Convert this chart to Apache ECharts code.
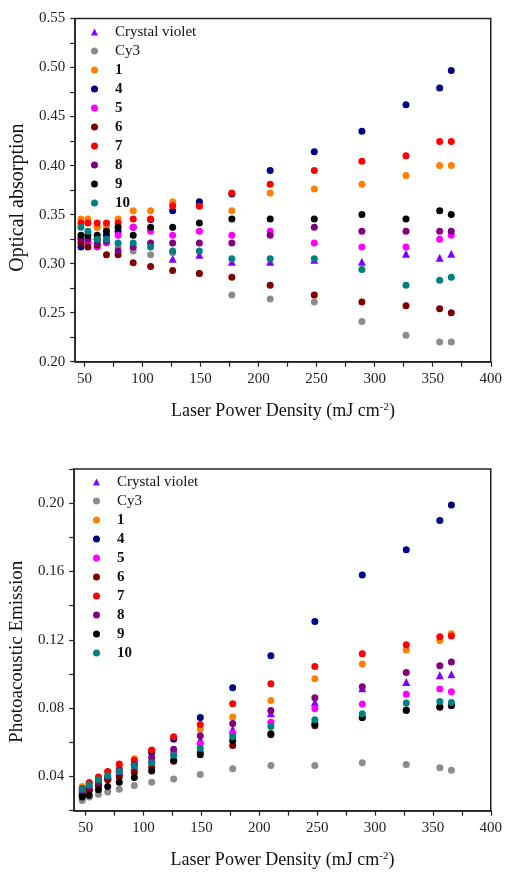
<!DOCTYPE html>
<html>
<head>
<meta charset="utf-8">
<script src="https://cdn.jsdelivr.net/npm/echarts@6/dist/echarts.min.js"></script>
<style>
html,body{margin:0;padding:0;background:#fff;}
#chart{width:505px;height:873px;}
</style>
</head>
<body>
<div id="chart"></div>
<script>
// Shared laser power densities (mJ cm^-2)
const xValues = [47, 53, 61, 69, 79, 92, 107, 126, 149, 177, 210, 248, 289, 327, 356, 366];
const seriesNames = ['Crystal violet', 'Cy3', '1', '4', '5', '6', '7', '8', '9', '10'];
const seriesColors = ['#8000ff', '#8c8c8c', '#ff8000', '#000080', '#ff00ff', '#800000', '#ff0000', '#800080', '#000000', '#008080'];

// Top panel: Optical absorption (null = point not visible)
const absCrystalViolet = [null, null, null, null, null, null, null, 0.305, 0.309, 0.302, 0.302, 0.304, 0.302, 0.310, 0.306, 0.310];
const absCy3 = [null, null, 0.337, null, 0.317, 0.313, 0.309, 0.311, 0.290, 0.268, 0.264, 0.261, 0.241, 0.227, 0.220, 0.220];
const abs1 = [0.3456, 0.3456, 0.337, 0.337, 0.3456, 0.354, 0.354, 0.363, 0.362, 0.354, 0.372, 0.376, 0.381, 0.390, 0.400, 0.400];
const abs4 = [0.317, 0.321, 0.325, 0.329, 0.333, 0.337, 0.345, 0.354, 0.363, 0.371, 0.395, 0.414, 0.435, 0.462, 0.479, 0.497];
const abs5 = [0.324, 0.321, 0.317, 0.321, 0.329, 0.337, 0.333, 0.329, 0.333, 0.329, 0.333, 0.321, 0.317, 0.317, 0.325, 0.329];
const abs6 = [0.321, 0.317, 0.319, 0.309, 0.309, 0.301, 0.297, 0.293, 0.290, 0.286, 0.278, 0.268, 0.261, 0.257, 0.254, 0.250];
const abs7 = [0.3415, 0.3415, 0.3415, 0.3415, 0.3415, 0.3456, 0.3456, 0.359, 0.3585, 0.372, 0.381, 0.395, 0.4045, 0.410, 0.4246, 0.4246];
const abs8 = [0.326, 0.325, 0.321, 0.323, 0.313, 0.317, 0.321, 0.321, 0.321, 0.321, 0.329, 0.337, 0.333, 0.333, 0.333, 0.333];
const abs9 = [0.329, 0.329, 0.329, 0.333, 0.337, 0.329, 0.337, 0.337, 0.3415, 0.3456, 0.3456, 0.3456, 0.350, 0.3456, 0.354, 0.350];
const abs10 = [0.337, 0.333, 0.325, 0.325, 0.321, 0.321, 0.317, 0.313, 0.313, 0.305, 0.305, 0.305, 0.294, 0.278, 0.283, 0.286];

// Bottom panel: Photoacoustic emission
const paCrystalViolet = [0.031, 0.034, 0.037, 0.040, 0.043, 0.046, 0.050, 0.054, 0.0615, 0.0677, 0.0771, 0.0835, 0.0917, 0.0954, 0.0993, 0.0999];
const paCy3 = [0.026, 0.028, 0.0296, 0.0309, 0.0326, 0.0347, 0.0367, 0.0385, 0.0412, 0.0445, 0.0465, 0.0465, 0.0480, 0.0470, 0.0451, 0.0437];
const pa1 = [0.0342, 0.036, 0.039, 0.0426, 0.046, 0.0504, 0.055, 0.0619, 0.0677, 0.0749, 0.0845, 0.0972, 0.1058, 0.1141, 0.1196, 0.1235];
const pa4 = [0.029, 0.032, 0.035, 0.039, 0.043, 0.047, 0.054, 0.062, 0.0745, 0.0919, 0.1107, 0.1307, 0.158, 0.1728, 0.1898, 0.199];
const pa5 = [0.031, 0.033, 0.036, 0.039, 0.042, 0.045, 0.049, 0.054, 0.0591, 0.0652, 0.0718, 0.0796, 0.0824, 0.0882, 0.0912, 0.0896];
const pa6 = [0.030, 0.032, 0.0346, 0.0381, 0.0397, 0.0424, 0.0455, 0.049, 0.054, 0.0582, 0.0644, 0.0697, 0.0745, 0.0786, 0.0806, 0.0816];
const pa7 = [0.033, 0.0365, 0.0397, 0.0429, 0.0474, 0.0495, 0.0555, 0.0633, 0.0704, 0.0826, 0.0943, 0.1044, 0.1118, 0.1171, 0.1218, 0.1223];
const pa8 = [0.032, 0.034, 0.037, 0.040, 0.044, 0.047, 0.0511, 0.056, 0.0638, 0.0710, 0.0786, 0.0861, 0.0925, 0.1009, 0.1048, 0.1071];
const pa9 = [0.028, 0.0291, 0.0323, 0.0342, 0.0367, 0.0395, 0.0432, 0.0496, 0.0528, 0.0610, 0.0651, 0.0708, 0.0745, 0.0790, 0.0808, 0.0816];
const pa10 = [0.0326, 0.035, 0.0381, 0.0404, 0.0429, 0.0463, 0.048, 0.0525, 0.0566, 0.0633, 0.0693, 0.0732, 0.0767, 0.0830, 0.0839, 0.0833];

// Tick values
const xLabelValues = [50, 100, 150, 200, 250, 300, 350, 400];
const xTickValues = [50, 75, 100, 125, 150, 175, 200, 225, 250, 275, 300, 325, 350, 375, 400];

const absData = [absCrystalViolet, absCy3, abs1, abs4, abs5, abs6, abs7, abs8, abs9, abs10];
const paData = [paCrystalViolet, paCy3, pa1, pa4, pa5, pa6, pa7, pa8, pa9, pa10];

const FONT = '"Liberation Serif", "Times New Roman", serif';
const AX = '#222';

function pairs(arr) {
  const out = [];
  arr.forEach((v, i) => { if (v !== null) out.push([xValues[i], v]); });
  return out;
}

function makeSeries(dataSets, gridIndex) {
  return dataSets.map((arr, i) => ({
    type: 'scatter',
    name: seriesNames[i],
    xAxisIndex: gridIndex,
    yAxisIndex: gridIndex,
    symbol: i === 0 ? 'triangle' : 'circle',
    symbolSize: i === 0 ? 8 : 7,
    itemStyle: { color: seriesColors[i], opacity: 1 },
    emphasis: { disabled: true },
    data: pairs(arr)
  }));
}

function xAxisOpt(gridIndex, min) {
  return {
    type: 'value', gridIndex: gridIndex, min: min, max: 400,
    name: '{n|Laser Power Density (mJ cm}{s|-2}{n|)}',
    nameLocation: 'middle', nameGap: 40,
    nameTextStyle: {
      rich: {
        n: { fontFamily: FONT, fontSize: 18, color: '#111' },
        s: { fontFamily: FONT, fontSize: 11, color: '#111', verticalAlign: 'top', padding: [0, 0, 8, 0] }
      }
    },
    axisLine: { show: true, onZero: false, lineStyle: { color: AX, width: 1.5 } },
    axisTick: { show: true, inside: false, length: 5, customValues: xTickValues, lineStyle: { color: AX, width: 1.2 } },
    axisLabel: { customValues: xLabelValues, margin: 10, fontFamily: FONT, fontSize: 15, color: '#222' },
    splitLine: { show: false }
  };
}

function legendOpt(left, top) {
  return {
    orient: 'vertical', left: left, top: top, padding: 0,
    itemWidth: 7, itemHeight: 7, itemGap: 4,
    data: seriesNames,
    selectedMode: false,
    textStyle: {
      fontFamily: FONT, fontSize: 15, color: '#111', lineHeight: 15,
      padding: [0, 0, 0, 12],
      rich: { b: { fontFamily: FONT, fontSize: 15, fontWeight: 'bold', color: '#111', lineHeight: 15 } }
    },
    formatter: name => /^\d+$/.test(name) ? '{b|' + name + '}' : name
  };
}

const chart = echarts.init(document.getElementById('chart'), null, { renderer: 'canvas' });

chart.setOption({
  animation: false,
  backgroundColor: '#ffffff',
  grid: [
    { left: 75, top: 18.5, right: 13.3, height: 343.2, show: true, borderColor: AX, borderWidth: 1.5, containLabel: false },
    { left: 72.7, top: 469, right: 13.3, height: 341.7, show: true, borderColor: AX, borderWidth: 1.5, containLabel: false }
  ],
  legend: [legendOpt(91, 24.5), legendOpt(93, 474.5)],
  xAxis: [xAxisOpt(0, 42), xAxisOpt(1, 40)],
  yAxis: [
    {
      type: 'value', gridIndex: 0, min: 0.2, max: 0.55, interval: 0.025,
      name: 'Optical absorption', nameLocation: 'middle', nameGap: 46,
      nameTextStyle: { fontFamily: FONT, fontSize: 20, color: '#111', padding: [0, 15, 0, 0] },
      axisLine: { show: true, onZero: false, lineStyle: { color: AX, width: 1.5 } },
      axisTick: { show: true, inside: false, length: 5, lineStyle: { color: AX, width: 1.2 } },
      axisLabel: {
        margin: 10, fontFamily: FONT, fontSize: 15, color: '#222',
        formatter: v => (Math.round(v * 1000) % 50 === 0) ? v.toFixed(2) : ''
      },
      splitLine: { show: false }
    },
    {
      type: 'value', gridIndex: 1, min: 0.02, max: 0.22, interval: 0.02,
      name: 'Photoacoustic Emission', nameLocation: 'middle', nameGap: 46,
      nameTextStyle: { fontFamily: FONT, fontSize: 19, color: '#111', padding: [0, 24, 0, 0] },
      axisLine: { show: true, onZero: false, lineStyle: { color: AX, width: 1.5 } },
      axisTick: { show: true, inside: false, length: 5, lineStyle: { color: AX, width: 1.2 } },
      axisLabel: {
        margin: 10, fontFamily: FONT, fontSize: 15, color: '#222',
        formatter: v => (Math.round(v * 100) % 4 === 0) ? v.toFixed(2) : ''
      },
      splitLine: { show: false }
    }
  ],
  series: makeSeries(absData, 0).concat(makeSeries(paData, 1))
});
</script>
</body>
</html>
